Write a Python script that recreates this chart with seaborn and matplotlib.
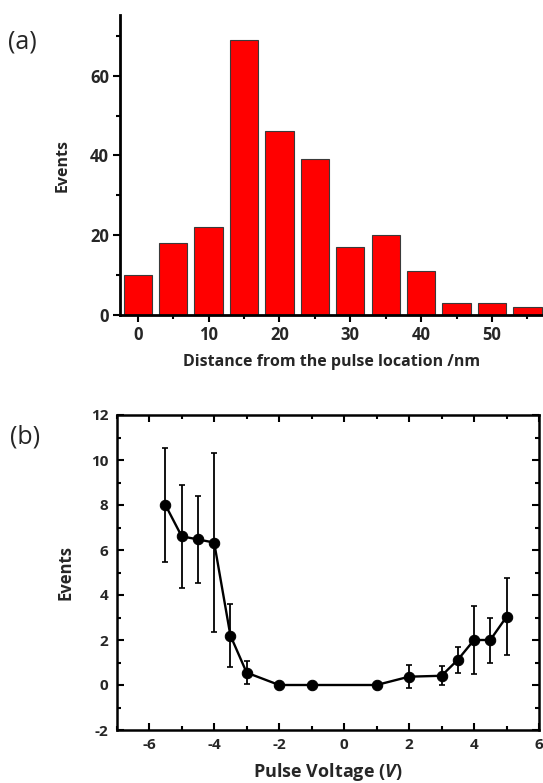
import numpy as np
import pandas as pd
import matplotlib
matplotlib.use("Agg")
import matplotlib.pyplot as plt
from matplotlib.ticker import MultipleLocator
import seaborn as sns

# ---- data ----
distance_nm = [0, 5, 10, 15, 20, 25, 30, 35, 40, 45, 50, 55]
distance_events = [10, 18, 22, 69, 46, 39, 17, 20, 11, 3, 3, 2]

voltage = [-5.5, -5.0, -4.5, -4.0, -3.5, -3.0, -2.0, -1.0, 1.0, 2.0, 3.0, 3.5, 4.0, 4.5, 5.0]
voltage_events = [8.0, 6.61, 6.47, 6.33, 2.2, 0.55, 0.0, 0.0, 0.0, 0.37, 0.41, 1.12, 2.0, 2.0, 3.03]
voltage_err = [2.53, 2.29, 1.93, 3.98, 1.4, 0.5, 0.0, 0.0, 0.0, 0.5, 0.42, 0.59, 1.52, 1.0, 1.71]

sns.set_theme(style="white")
plt.rcParams['font.family'] = ['Open Sans', 'DejaVu Sans']
plt.rcParams['axes.unicode_minus'] = False
plt.rcParams['mathtext.fontset'] = 'custom'
plt.rcParams['mathtext.it'] = 'Open Sans:italic:bold'
plt.rcParams['mathtext.rm'] = 'Open Sans:bold'

W, H = 543, 783
fig = plt.figure(figsize=(W / 100, H / 100), dpi=100)

def frac(l, t, r, b):
    return [l / W, 1 - b / H, (r - l) / W, (b - t) / H]

# ---- panel (a) ----
axa = fig.add_axes(frac(120, 15, 543, 315))
dfa = pd.DataFrame({"d": distance_nm, "n": distance_events})
sns.barplot(data=dfa, x="d", y="n", native_scale=True, width=0.8,
            color="#ff0000", saturation=1, edgecolor="#3a3a3a", linewidth=0.8, ax=axa)
axa.set_xlim(-2.5, 57.2)
axa.set_ylim(0, 75.2)
for s in ["top", "right"]:
    axa.spines[s].set_visible(False)
for s in ["left", "bottom"]:
    axa.spines[s].set_linewidth(2)
    axa.spines[s].set_color("black")
axa.xaxis.set_major_locator(MultipleLocator(10))
axa.xaxis.set_minor_locator(MultipleLocator(5))
axa.yaxis.set_major_locator(MultipleLocator(20))
axa.yaxis.set_minor_locator(MultipleLocator(10))
axa.tick_params(which="both", direction="out", bottom=True, left=True, width=1.5, color="black")
axa.tick_params(which="major", length=5, labelsize=12, pad=3)
axa.tick_params(which="minor", length=3)
for lab in axa.get_xticklabels() + axa.get_yticklabels():
    lab.set_fontweight("bold")
axa.set_xlabel("Distance from the pulse location /nm", fontsize=11.5, fontweight="bold", labelpad=7)
axa.set_ylabel("Events", fontsize=11.5, fontweight="bold", labelpad=14)
fig.text(8 / W, 1 - 42 / H, "(a)", fontsize=18, va="center", ha="left")

# ---- panel (b) ----
axb = fig.add_axes(frac(116.7, 415, 539, 730))
dfb = pd.DataFrame({"v": voltage, "n": voltage_events})
axb.errorbar(voltage, voltage_events, yerr=voltage_err, fmt="none", ecolor="black",
             elinewidth=1.3, capsize=2.5, capthick=1.2, zorder=2)
sns.lineplot(data=dfb, x="v", y="n", color="black", linewidth=1.7, marker="o",
             markersize=7.5, markeredgecolor="black", ax=axb, zorder=3)
axb.set_xlim(-7, 6)
axb.set_ylim(-2, 12)
for s in axb.spines.values():
    s.set_linewidth(1.8)
    s.set_color("black")
axb.xaxis.set_major_locator(MultipleLocator(2))
axb.xaxis.set_minor_locator(MultipleLocator(1))
axb.yaxis.set_major_locator(MultipleLocator(2))
axb.yaxis.set_minor_locator(MultipleLocator(1))
axb.tick_params(which="both", direction="in", bottom=True, left=True, top=True, right=True,
                width=1.5, color="black")
axb.tick_params(which="major", length=5, labelsize=11, pad=6)
axb.tick_params(which="minor", length=3)
for lab in axb.get_xticklabels() + axb.get_yticklabels():
    lab.set_fontweight("bold")
axb.set_xlabel(r"Pulse Voltage ($V$)", fontsize=13, fontweight="bold", labelpad=6)
axb.set_ylabel("Events", fontsize=12, fontweight="bold", labelpad=12)
fig.text(10 / W, 1 - 437 / H, "(b)", fontsize=18, va="center", ha="left")

fig.savefig("out.png", dpi=100)
